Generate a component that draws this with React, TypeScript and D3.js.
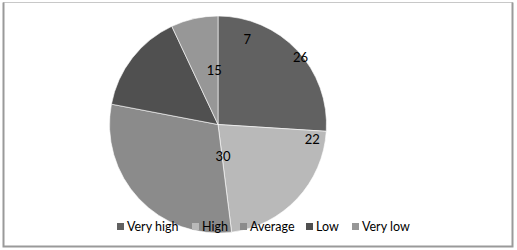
import { useEffect, useRef } from 'react';
import * as d3 from 'd3';

const categories = ['Very high', 'High', 'Average', 'Low', 'Very low'];
const values = [26, 22, 30, 15, 7];
const colors = ['#616161', '#b9b9b9', '#8b8b8b', '#505050', '#979797'];
// where Excel dropped each data label: [angle in degrees, fraction of radius]
const labelSpots: [number, number][] = [[51, 0.98], [99, 0.88], [171, 0.3], [356, 0.5], [19, 0.83]];
// legend item x positions (Excel spaces them by text width)
const legendOffsets = [117, 192, 240, 306, 352];

const width = 517;
const height = 250;
const cx = 218;
const cy = 124.5;
const radius = 108.5;

const App = () => {
  const ref = useRef<SVGSVGElement>(null);

  useEffect(() => {
    const svg = d3.select(ref.current);
    svg.selectAll('*').remove();

    // frame round the chart
    svg.append('rect')
      .attr('x', 3.5).attr('y', 2.5)
      .attr('width', 509).attr('height', 244)
      .attr('fill', '#fff')
      .attr('stroke', '#c8c8c8');
    svg.append('path')
      .attr('d', 'M3.5,2.5 V246.5 H512.5 V2.5')
      .attr('fill', 'none')
      .attr('stroke', '#9a9a9a')
      .attr('stroke-width', 2);

    const pie = d3.pie<number>().sort(null)(values);
    const arc = d3.arc<d3.PieArcDatum<number>>().innerRadius(0).outerRadius(radius);

    const g = svg.append('g').attr('transform', `translate(${cx},${cy})`);
    g.selectAll('path.slice')
      .data(pie)
      .join('path')
      .attr('class', 'slice')
      .attr('d', arc)
      .attr('fill', (_, i) => colors[i])
      .attr('stroke', '#fff')
      .attr('stroke-width', 0.6);

    g.selectAll('text.lbl')
      .data(pie)
      .join('text')
      .attr('class', 'lbl')
      .attr('x', (_, i) => Math.sin(labelSpots[i][0] * Math.PI / 180) * radius * labelSpots[i][1])
      .attr('y', (_, i) => -Math.cos(labelSpots[i][0] * Math.PI / 180) * radius * labelSpots[i][1])
      .attr('text-anchor', 'middle')
      .attr('dy', '0.35em')
      .attr('font-family', 'Lato, sans-serif')
      .attr('font-size', 13)
      .attr('fill', '#000')
      .text(d => d.data);

    // legend along the bottom
    const item = svg.append('g').selectAll('g')
      .data(categories)
      .join('g')
      .attr('transform', (_, i) => `translate(${legendOffsets[i]},227)`);
    item.append('rect')
      .attr('x', 0).attr('y', -4)
      .attr('width', 7).attr('height', 7)
      .attr('fill', (_, i) => colors[i]);
    item.append('text')
      .attr('x', 10)
      .attr('dy', '0.35em')
      .attr('font-family', 'Lato, sans-serif')
      .attr('font-size', 12.5)
      .attr('fill', '#000')
      .text(d => d);
  }, []);

  return <svg ref={ref} width={width} height={height} style={{ position: 'absolute', left: 0, top: 0 }} />;
};

export default App;
